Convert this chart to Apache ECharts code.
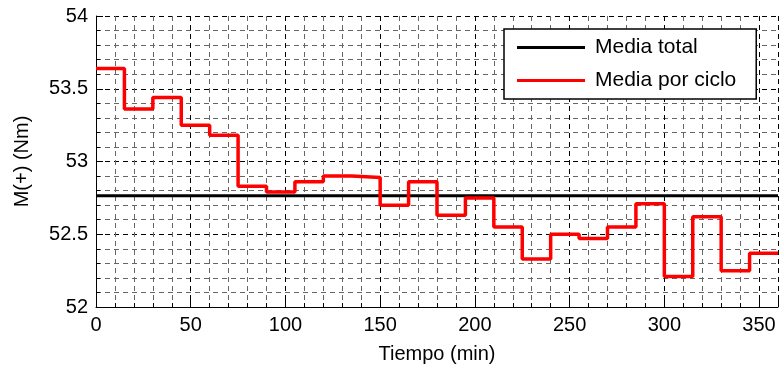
<!DOCTYPE html>
<html>
<head>
<meta charset="utf-8">
<script src="https://cdn.jsdelivr.net/npm/echarts@6/dist/echarts.min.js"></script>
<style>
  html, body { margin: 0; padding: 0; background: #fff; }
  #chart { width: 781px; height: 369px; }
</style>
</head>
<body>
<div id="chart"></div>
<script>
// inicio de cada ciclo (min)
const cycleStart = [0, 15, 30, 45, 60, 75, 90, 105, 120, 135, 150, 165,
  180, 195, 210, 225, 240, 255, 270, 285, 300, 315, 330, 345]
const cycleEnd = 360
// media por ciclo (Nm)
const cycleMean = [53.64, 53.36, 53.44, 53.25, 53.18, 52.83, 52.79, 52.86,
  52.90, 52.89, 52.70, 52.86, 52.63, 52.75, 52.55, 52.33, 52.50, 52.47,
  52.55, 52.71, 52.21, 52.62, 52.25, 52.37]
const totalMean = 52.765
const xTicks = [0, 50, 100, 150, 200, 250, 300, 350]
const yTicks = [52, 52.5, 53, 53.5, 54]

const FONT = '"Liberation Sans", Arial, sans-serif'

const chart = echarts.init(document.getElementById('chart'))

// escalones: cada valor se mantiene hasta el siguiente ciclo
const stepData = cycleStart.map((t, i) => [t, cycleMean[i]])
stepData.push([cycleEnd, cycleMean[cycleMean.length - 1]])

const option = {
  animation: false,
  backgroundColor: '#fff',
  grid: { left: 96, right: 0, top: 16, bottom: 62 },
  legend: {
    left: 504,
    top: 29,
    orient: 'vertical',
    backgroundColor: '#fff',
    borderColor: '#000',
    borderWidth: 1.5,
    borderRadius: 0,
    padding: [8, 20, 8, 13],
    itemGap: 12,
    itemWidth: 68,
    itemHeight: 3,
    textStyle: { fontFamily: FONT, fontSize: 21, color: '#000', lineHeight: 21, padding: [0, 0, 0, 5] },
    data: [
      { name: 'Media total', icon: 'rect' },
      { name: 'Media por ciclo', icon: 'rect' }
    ]
  },
  xAxis: {
    type: 'value',
    min: 0,
    max: 360,
    interval: 50,
    name: 'Tiempo (min)',
    nameLocation: 'middle',
    nameGap: 37,
    nameTextStyle: { fontFamily: FONT, fontSize: 20, color: '#000' },
    axisLine: { lineStyle: { color: '#000', width: 1 } },
    axisTick: { inside: true, length: 7, lineStyle: { color: '#000' } },
    minorTick: { show: true, splitNumber: 5, length: 4, lineStyle: { color: '#000' } },
    axisLabel: {
      fontFamily: FONT, fontSize: 20, color: '#000', margin: 8,
      formatter: v => (xTicks.includes(v) ? String(v) : '')
    },
    splitLine: { show: true, lineStyle: { color: '#000', type: [5, 4], width: 1 } },
    minorSplitLine: { show: true, lineStyle: { color: '#666', type: [5, 4], width: 1 } }
  },
  yAxis: {
    type: 'value',
    min: 52,
    max: 54,
    interval: 0.5,
    name: 'M(+) (Nm)',
    nameLocation: 'middle',
    nameGap: 64,
    nameTextStyle: { fontFamily: FONT, fontSize: 20, color: '#000' },
    axisLine: { show: true, lineStyle: { color: '#000', width: 1 } },
    axisTick: { show: true, inside: true, length: 7, lineStyle: { color: '#000' } },
    minorTick: { show: true, splitNumber: 5, length: 4, lineStyle: { color: '#000' } },
    axisLabel: {
      fontFamily: FONT, fontSize: 20, color: '#000', margin: 8,
      formatter: v => (yTicks.includes(v) ? String(v) : '')
    },
    splitLine: { show: true, lineStyle: { color: '#000', type: [5, 4], width: 1 } },
    minorSplitLine: { show: true, lineStyle: { color: '#666', type: [5, 4], width: 1 } }
  },
  series: [
    {
      name: 'Media total',
      type: 'line',
      symbol: 'none',
      color: '#000',
      lineStyle: { color: '#000', width: 3 },
      data: [[0, totalMean], [cycleEnd, totalMean]],
      z: 3
    },
    {
      name: 'Media por ciclo',
      type: 'line',
      step: 'end',
      symbol: 'none',
      color: '#ff0000',
      lineStyle: { color: '#ff0000', width: 3.5 },
      data: stepData,
      z: 4
    }
  ]
}

chart.setOption(option)
</script>
</body>
</html>
